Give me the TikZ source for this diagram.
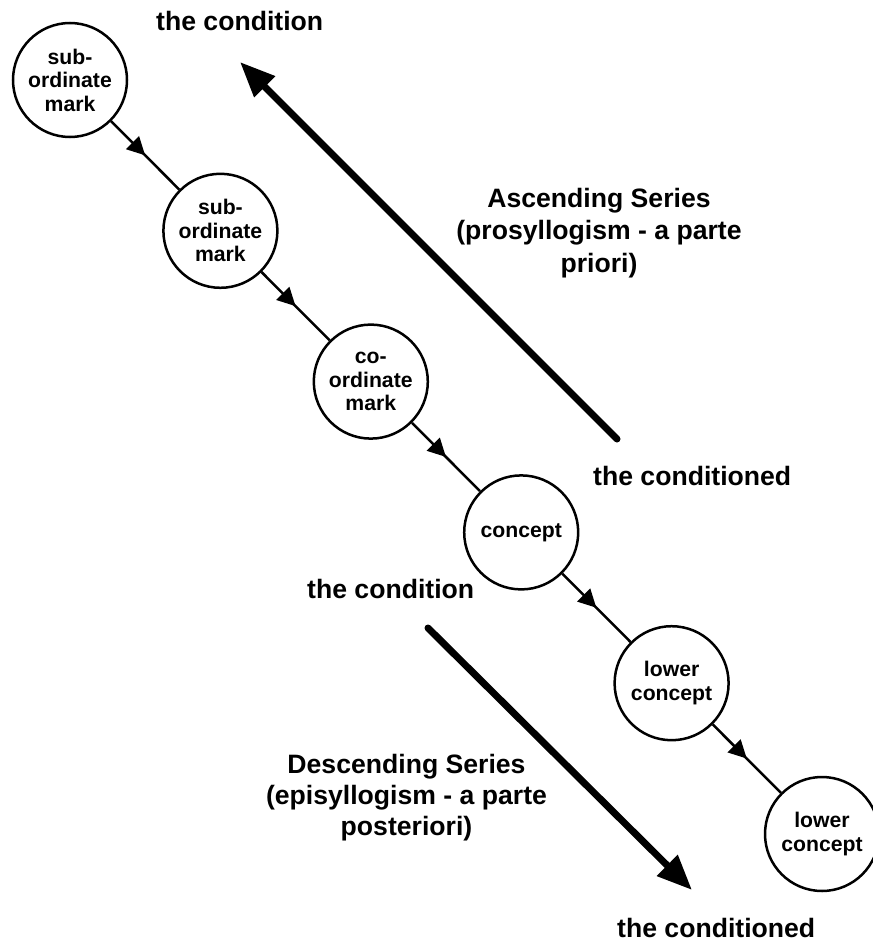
\documentclass[tikz,border=0pt]{standalone}
\usepackage{fontspec}
\setmainfont{Liberation Sans}
\usetikzlibrary{arrows.meta,decorations.markings}
\begin{document}
\begin{tikzpicture}[x=1pt,y=-1pt,
  conceptnode/.style={circle, draw, line width=2.5pt, minimum size=114pt, inner sep=0pt, align=center,
    font=\bfseries\fontsize{21.2}{23.5}\selectfont},
  lbl/.style={inner sep=0pt, font=\bfseries\fontsize{26.6}{31}\selectfont},
  link/.style={line width=2.5pt, postaction={decorate},
    decoration={markings, mark=at position 0.5 with {\arrow{Triangle[length=18pt,width=18pt]}}}},
  bigarrow/.style={line width=7pt, line cap=round, -{Triangle[length=35pt,width=28pt]}}
]
\useasboundingbox (0,0) rectangle (872,944);

\node[conceptnode] (c1) at (70,80) {sub-\\ordinate\\mark};
\node[conceptnode] (c2) at (220.4,230.8) {sub-\\ordinate\\mark};
\node[conceptnode] (c3) at (370.8,381.6) {co-\\ordinate\\mark};
\node[conceptnode] (c4) at (521.2,532.4) {concept};
\node[conceptnode] (c5) at (671.6,683.2) {lower\\concept};
\node[conceptnode] (c6) at (822,834) {lower\\concept};

\draw[link] (c1) -- (c2);
\draw[link] (c2) -- (c3);
\draw[link] (c3) -- (c4);
\draw[link] (c4) -- (c5);
\draw[link] (c5) -- (c6);

\coordinate (ascTail) at (617,439);
\coordinate (ascTip) at (240,62);
\coordinate (desTail) at (428,628);
\coordinate (desTip) at (692,890);
\draw[bigarrow] (ascTail) -- (ascTip);
\draw[bigarrow] (desTail) -- (desTip);

\node[lbl, anchor=base west] (condTop) at (156,31) {the condition};
\node[lbl, anchor=base west] (conditionedRight) at (593,485) {the conditioned};
\node[lbl, anchor=base west] (condLeft) at (307,598) {the condition};
\node[lbl, anchor=base west] (conditionedBottom) at (617,937) {the conditioned};

\node[lbl, anchor=base] (asc1) at (599,207) {Ascending Series};
\node[lbl, anchor=base] (asc2) at (599,239.5) {(prosyllogism - a parte};
\node[lbl, anchor=base] (asc3) at (599,272) {priori)};

\node[lbl, anchor=base] (des1) at (406.5,773) {Descending Series};
\node[lbl, anchor=base] (des2) at (406.5,804) {(episyllogism - a parte};
\node[lbl, anchor=base] (des3) at (406.5,835) {posteriori)};
\end{tikzpicture}
\end{document}
